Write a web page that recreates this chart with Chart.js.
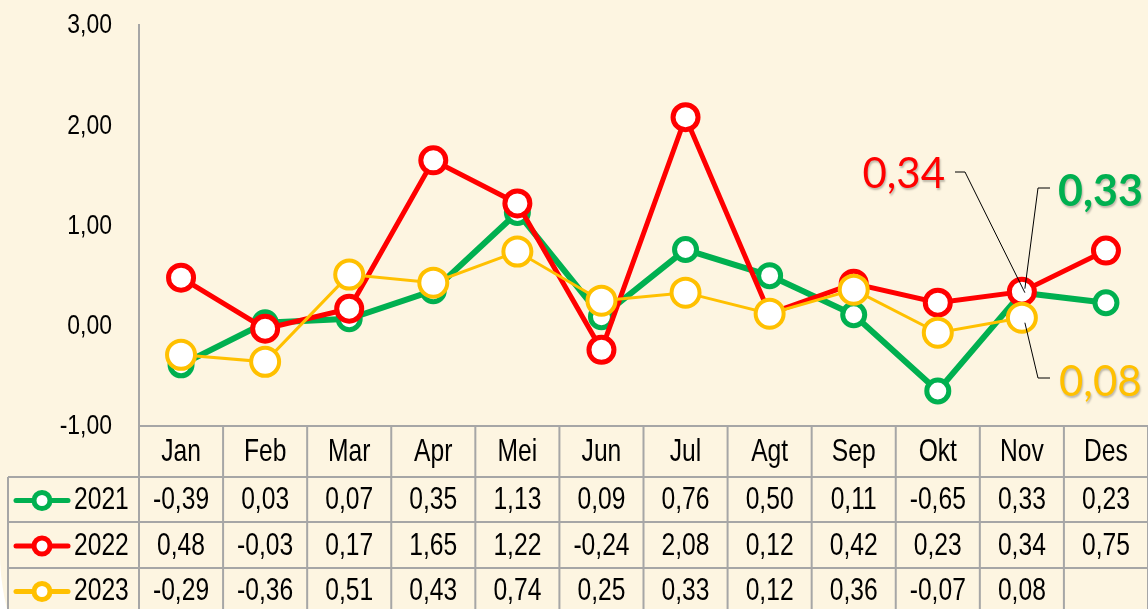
<!DOCTYPE html>
<html>
<head>
<meta charset="utf-8">
<script src="https://cdn.jsdelivr.net/npm/chart.js@4"></script>
<style>
	html, body { margin: 0; padding: 0; background: #ffffff; overflow: hidden; }
	#wrap { position: relative; width: 1148px; height: 609px; overflow: hidden; }
	#bg { position: absolute; left: 0; top: 0; width: 1148px; height: 780px; background: #fdf5e1; border-bottom-left-radius: 227px; }
	#c { position: absolute; left: 0; top: 0; }
</style>
</head>
<body>
<div id="wrap">
	<div id="bg"></div>
	<canvas id="c" width="1148" height="609"></canvas>
</div>
<script>
const months = ['Jan', 'Feb', 'Mar', 'Apr', 'Mei', 'Jun', 'Jul', 'Agt', 'Sep', 'Okt', 'Nov', 'Des'];
const years = ['2021', '2022', '2023'];
const v2021 = [-0.39, 0.03, 0.07, 0.35, 1.13, 0.09, 0.76, 0.50, 0.11, -0.65, 0.33, 0.23];
const v2022 = [0.48, -0.03, 0.17, 1.65, 1.22, -0.24, 2.08, 0.12, 0.42, 0.23, 0.34, 0.75];
const v2023 = [-0.29, -0.36, 0.51, 0.43, 0.74, 0.25, 0.33, 0.12, 0.36, -0.07, 0.08, null];
const yTicks = [-1, 0, 1, 2, 3];

const GREEN = '#00b050';
const RED = '#ff0000';
const YELLOW = '#ffc000';
const GRID = '#a6a6a6';
const FONT = "'Liberation Sans', Arial, sans-serif";
const fmt = v => v.toFixed(2).replace('.', ',');

const seriesStyle = [
	{ color: GREEN, width: 6, radius: 11, border: 5 },
	{ color: RED, width: 5, radius: 12.5, border: 5 },
	{ color: YELLOW, width: 3, radius: 14, border: 4 }
];
const seriesData = [v2021, v2022, v2023];

// squeezed text so it looks like Arial Narrow
function narrowText(ctx, text, x, y, align, sx) {
	ctx.save();
	ctx.translate(x, y);
	ctx.scale(sx, 1);
	ctx.textAlign = align;
	ctx.fillText(text, 0, 0);
	ctx.restore();
}

// y labels + table below the plot: header row + one row per year
const tablePlugin = {
	id: 'dataTable',
	afterDraw(chart) {
		const ctx = chart.ctx;
		const x = chart.scales.x;
		const y = chart.scales.y;
		const area = chart.chartArea;
		const colW = (area.right - area.left) / months.length;
		const top = area.bottom;
		const rowTops = [top, 477, 522, 568, 613];
		const legendLeft = 8;
		ctx.save();
		ctx.strokeStyle = GRID;
		ctx.lineWidth = 2;
		ctx.beginPath();
		ctx.moveTo(area.left, top);
		ctx.lineTo(area.right, top);
		for (let r = 1; r < rowTops.length - 1; r++) {
			ctx.moveTo(legendLeft, rowTops[r]);
			ctx.lineTo(area.right, rowTops[r]);
		}
		for (let i = 0; i <= months.length; i++) {
			const bx = area.left + i * colW;
			ctx.moveTo(bx, top);
			ctx.lineTo(bx, 609);
		}
		ctx.moveTo(legendLeft, rowTops[1]);
		ctx.lineTo(legendLeft, 609);
		ctx.stroke();

		ctx.fillStyle = '#000';
		ctx.textBaseline = 'middle';
		ctx.font = '27px ' + FONT;
		yTicks.forEach(v => {
			narrowText(ctx, fmt(v), 112, y.getPixelForValue(v) + 1, 'right', 0.85);
		});

		ctx.font = '32px ' + FONT;
		months.forEach((m, i) => {
			narrowText(ctx, m, x.getPixelForValue(i), (rowTops[0] + rowTops[1]) / 2 + 1, 'center', 0.77);
		});
		seriesData.forEach((arr, s) => {
			const cy = (rowTops[s + 1] + rowTops[s + 2]) / 2 + 1;
			arr.forEach((v, i) => {
				if (v === null) return;
				narrowText(ctx, fmt(v), x.getPixelForValue(i), cy, 'center', 0.77);
			});
			// legend key
			const st = seriesStyle[s];
			ctx.strokeStyle = st.color;
			ctx.lineWidth = 5;
			ctx.lineCap = 'round';
			ctx.beginPath();
			ctx.moveTo(16, cy);
			ctx.lineTo(68, cy);
			ctx.stroke();
			ctx.beginPath();
			ctx.arc(42, cy, 8, 0, Math.PI * 2);
			ctx.fillStyle = '#fff';
			ctx.fill();
			ctx.lineWidth = 5;
			ctx.stroke();
			ctx.fillStyle = '#000';
			narrowText(ctx, years[s], 74, cy, 'left', 0.77);
		});
		ctx.restore();
	}
};

// callout labels for the last point of each year (Nov)
const calloutPlugin = {
	id: 'callouts',
	afterDatasetsDraw(chart) {
		const ctx = chart.ctx;
		const idx = 10;
		const p0 = chart.getDatasetMeta(0).data[idx];
		const p1 = chart.getDatasetMeta(1).data[idx];
		const p2 = chart.getDatasetMeta(2).data[idx];
		ctx.save();
		ctx.strokeStyle = '#000';
		ctx.lineWidth = 1;
		ctx.beginPath();
		ctx.moveTo(955, 172);
		ctx.lineTo(965, 172);
		ctx.lineTo(p1.x + 3, p1.y + 1);
		ctx.moveTo(1050, 188);
		ctx.lineTo(1038, 188);
		ctx.lineTo(p0.x + 3, p0.y - 4);
		ctx.moveTo(p2.x + 3, p2.y + 5);
		ctx.lineTo(1038, 378);
		ctx.lineTo(1050, 378);
		ctx.stroke();

		ctx.shadowColor = 'rgba(0,0,0,0.25)';
		ctx.shadowOffsetX = 1;
		ctx.shadowOffsetY = 2;
		ctx.shadowBlur = 2;
		ctx.textBaseline = 'middle';
		ctx.textAlign = 'right';
		ctx.fillStyle = RED;
		ctx.font = "42px Lato, 'Open Sans', sans-serif";
		ctx.fillText(fmt(v2022[idx]), 945, 174);
		ctx.textAlign = 'left';
		ctx.fillStyle = GREEN;
		ctx.font = "bold 43px Lato, 'Open Sans', sans-serif";
		ctx.fillText(fmt(v2021[idx]), 1058, 192);
		ctx.fillStyle = YELLOW;
		ctx.font = "42px Lato, 'Open Sans', sans-serif";
		ctx.fillText(fmt(v2023[idx]), 1059, 382);
		ctx.restore();
	}
};

new Chart(document.getElementById('c'), {
	type: 'line',
	data: {
		labels: months,
		datasets: seriesData.map((arr, s) => ({
			label: years[s],
			data: arr,
			borderColor: seriesStyle[s].color,
			borderWidth: seriesStyle[s].width,
			pointRadius: seriesStyle[s].radius,
			pointBorderWidth: seriesStyle[s].border,
			pointBackgroundColor: '#ffffff',
			pointBorderColor: seriesStyle[s].color,
			tension: 0,
			order: 3 - s
		}))
	},
	options: {
		responsive: false,
		animation: false,
		events: [],
		layout: {
			autoPadding: false,
			padding: { top: 25, right: 0, bottom: 183, left: 0 }
		},
		scales: {
			x: {
				display: false,
				offset: true
			},
			y: {
				min: -1,
				max: 3,
				afterBuildTicks: axis => {
					axis.ticks = yTicks.map(v => ({ value: v }));
				},
				afterFit: axis => {
					axis.width = 139;
				},
				grid: { display: false, drawTicks: false },
				border: { display: true, color: GRID, width: 2 },
				ticks: { display: false }
			}
		},
		plugins: {
			legend: { display: false },
			tooltip: { enabled: false }
		}
	},
	plugins: [tablePlugin, calloutPlugin]
});
</script>
</body>
</html>
